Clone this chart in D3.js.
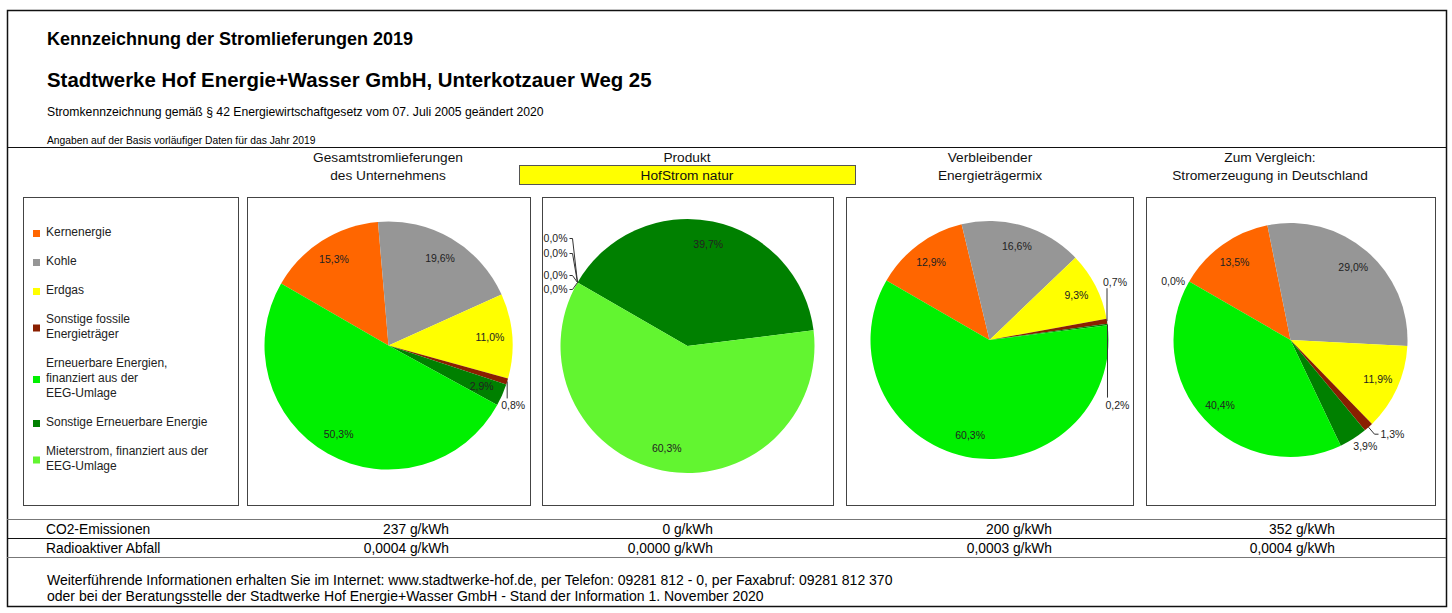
<!DOCTYPE html>
<html>
<head>
<meta charset="utf-8">
<script src="https://cdn.jsdelivr.net/npm/d3@7"></script>
<style>
  body { margin: 0; background: #fff; }
  svg { display: block; font-family: Arial, "Liberation Sans", sans-serif; }
</style>
</head>
<body>
<svg id="chart"></svg>
<script>
// categories in pie order (clockwise)
var categories = ["Kernenergie", "Kohle", "Erdgas", "Sonstige fossile Energieträger",
  "Sonstige Erneuerbare Energie", "Erneuerbare Energien, finanziert aus der EEG-Umlage",
  "Mieterstrom, finanziert aus der EEG-Umlage"]
var colors = ["#ff6600", "#969696", "#ffff00", "#8a1f00", "#008000", "#00f000", "#62f530"]

// legend order, wrapped lines per category
var legendOrder = [0, 1, 2, 3, 5, 4, 6]
var legendLines = [["Kernenergie"], ["Kohle"], ["Erdgas"], ["Sonstige fossile", "Energieträger"],
  ["Sonstige Erneuerbare Energie"], ["Erneuerbare Energien,", "finanziert aus der", "EEG-Umlage"],
  ["Mieterstrom, finanziert aus der", "EEG-Umlage"]]

// shares in percent, null = no label
var gesamt = [15.3, 19.6, 11.0, 0.8, 2.9, 50.3, null]
var produkt = [0.0, 0.0, 0.0, 0.0, 39.7, null, 60.3]
var verbleibend = [12.9, 16.6, 9.3, 0.7, 0.2, 60.3, null]
var deutschland = [13.5, 29.0, 11.9, 1.3, 3.9, 40.4, 0.0]

var headers = [["Gesamtstromlieferungen", "des Unternehmens"], ["Produkt", "HofStrom natur"],
  ["Verbleibender", "Energieträgermix"], ["Zum Vergleich:", "Stromerzeugung in Deutschland"]]
var co2 = [237, 0, 200, 352]
var abfall = [0.0004, 0.0000, 0.0003, 0.0004]

var W = 1452, H = 613
var svg = d3.select("#chart").attr("width", W).attr("height", H)

// panel layout
var panels = [
  { x0: 247, x1: 530, cy: 345.5, r: 124, hx: 388, vx: 449 },
  { x0: 542, x1: 833, cy: 346, r: 127, hx: 687, vx: 713 },
  { x0: 846, x1: 1133, cy: 340, r: 119, hx: 990, vx: 1052 },
  { x0: 1146, x1: 1435, cy: 340, r: 117, hx: 1270, vx: 1335 }
]
var boxTop = 197, boxBottom = 505

// outside labels: offsets relative to the slice edge point
var callouts = {
  "0-3": { line: [[0, 0], [0, 17]], text: [6, 24], anchor: "middle" },
  "1-0": { line: [[0, 0], [-5, -44], [-8, -44]], text: [-10, -44], anchor: "end" },
  "1-1": { line: [[0, 0], [-5, -29], [-8, -29]], text: [-10, -29], anchor: "end" },
  "1-2": { line: [[0, 0], [-5, -7], [-8, -7]], text: [-10, -7], anchor: "end" },
  "1-3": { line: [[0, 0], [-5, 7], [-8, 7]], text: [-10, 7], anchor: "end" },
  "2-3": { line: [[0, 0], [0, -33]], text: [8, -39], anchor: "middle" },
  "2-4": { line: [[0, 0], [0, 73]], text: [10, 81], anchor: "middle" },
  "3-3": { line: [[0, 0], [6, 7], [10, 7]], text: [12, 7], anchor: "start" },
  "3-4": { text: [12, 8], anchor: "middle" },
  "3-6": { text: [-16, 0], anchor: "middle" }
}

var de = d3.formatLocale({ decimal: ",", thousands: ".", grouping: [3], currency: ["", "€"] })
var pct = de.format(".1f")
var f4 = de.format(".4f")

// frame
svg.append("rect").attr("x", 7.5).attr("y", 10.5).attr("width", 1439).attr("height", 596)
  .attr("fill", "none").attr("stroke", "#111").attr("stroke-width", 1.5)

// titles
svg.append("text").attr("x", 47).attr("y", 45).style("font-size", "18px").style("font-weight", "bold")
  .text("Kennzeichnung der Stromlieferungen 2019")
svg.append("text").attr("x", 47).attr("y", 87).style("font-size", "20.4px").style("font-weight", "bold")
  .text("Stadtwerke Hof Energie+Wasser GmbH, Unterkotzauer Weg 25")
svg.append("text").attr("x", 47).attr("y", 116).style("font-size", "12.2px")
  .text("Stromkennzeichnung gemäß § 42 Energiewirtschaftgesetz vom 07. Juli 2005 geändert 2020")
svg.append("text").attr("x", 47).attr("y", 143.5).style("font-size", "10.3px")
  .text("Angaben auf der Basis vorläufiger Daten für das Jahr 2019")

svg.append("line").attr("x1", 7).attr("x2", 1446).attr("y1", 147.5).attr("y2", 147.5)
  .attr("stroke", "#111").attr("stroke-width", 1)

// headers
svg.append("rect").attr("x", 519.5).attr("y", 165.5).attr("width", 336).attr("height", 19)
  .attr("fill", "#ffff00").attr("stroke", "#555")
panels.forEach(function (p, i) {
  headers[i].forEach(function (t, j) {
    svg.append("text").attr("x", p.hx).attr("y", 162 + j * 18)
      .attr("text-anchor", "middle").style("font-size", "13.7px").attr("fill", "#111").text(t)
  })
})

// legend
var lg = svg.append("g")
lg.append("rect").attr("x", 23.5).attr("y", boxTop + 0.5).attr("width", 215).attr("height", boxBottom - boxTop)
  .attr("fill", "#fff").attr("stroke", "#444")
var lineH = 15, ly = 232
legendOrder.forEach(function (ci, k) {
  var lines = legendLines[ci]
  var h = lines.length * lineH + 14
  if (k > 0) ly += h / 2
  var top = ly - (lines.length - 1) * lineH / 2
  lg.append("rect").attr("x", 33).attr("y", ly - 2).attr("width", 7).attr("height", 7)
    .attr("fill", colors[ci])
  lines.forEach(function (t, j) {
    lg.append("text").attr("x", 46).attr("y", top + j * lineH + 4).style("font-size", "12px")
      .attr("fill", "#222").text(t)
  })
  ly += h / 2
})

// pies
var pie = d3.pie().sort(null).value(function (d) { return d.value || 0 })
  .startAngle(-Math.PI / 3).endAngle(-Math.PI / 3 + 2 * Math.PI)
var series = [gesamt, produkt, verbleibend, deutschland]

series.forEach(function (vals, i) {
  var p = panels[i]
  var cx = (p.x0 + p.x1) / 2
  svg.append("rect").attr("x", p.x0 + 0.5).attr("y", boxTop + 0.5).attr("width", p.x1 - p.x0)
    .attr("height", boxBottom - boxTop).attr("fill", "#fff").attr("stroke", "#444")

  var g = svg.append("g").attr("transform", "translate(" + cx + "," + p.cy + ")")
  var arcs = pie(vals.map(function (v, k) { return { value: v, k: k } }))
  var arc = d3.arc().innerRadius(0).outerRadius(p.r)

  g.selectAll("path").data(arcs).enter().append("path")
    .attr("d", arc).attr("fill", function (d) { return colors[d.data.k] })

  arcs.forEach(function (d) {
    if (d.data.value === null) return
    var mid = (d.startAngle + d.endAngle) / 2
    var c = callouts[i + "-" + d.data.k]
    var label = pct(d.data.value) + "%"
    if (c) {
      var ex = Math.sin(mid) * p.r, ey = -Math.cos(mid) * p.r
      if (c.line) {
        g.append("polyline")
          .attr("points", c.line.map(function (q) { return (ex + q[0]) + "," + (ey + q[1]) }).join(" "))
          .attr("fill", "none").attr("stroke", "#333").attr("stroke-width", 1)
      }
      g.append("text").attr("x", ex + c.text[0]).attr("y", ey + c.text[1]).attr("dy", "0.35em")
        .attr("text-anchor", c.anchor).style("font-size", "10.5px").attr("fill", "#222").text(label)
    } else {
      var lr = p.r * 0.82
      g.append("text").attr("x", Math.sin(mid) * lr).attr("y", -Math.cos(mid) * lr).attr("dy", "0.35em")
        .attr("text-anchor", "middle").style("font-size", "10.5px").attr("fill", "#222").text(label)
    }
  })
})

// emission rows
svg.append("line").attr("x1", 7).attr("x2", 1446).attr("y1", 519.5).attr("y2", 519.5).attr("stroke", "#777")
svg.append("line").attr("x1", 7).attr("x2", 1446).attr("y1", 538.5).attr("y2", 538.5).attr("stroke", "#111")
svg.append("line").attr("x1", 7).attr("x2", 1446).attr("y1", 557.5).attr("y2", 557.5).attr("stroke", "#777")

svg.append("text").attr("x", 46).attr("y", 534).style("font-size", "13.8px").text("CO2-Emissionen")
svg.append("text").attr("x", 46).attr("y", 553).style("font-size", "13.8px").text("Radioaktiver Abfall")
panels.forEach(function (p, i) {
  svg.append("text").attr("x", p.vx).attr("y", 534).attr("text-anchor", "end").style("font-size", "13.8px")
    .text(co2[i] + " g/kWh")
  svg.append("text").attr("x", p.vx).attr("y", 553).attr("text-anchor", "end").style("font-size", "13.8px")
    .text(f4(abfall[i]) + " g/kWh")
})

// footer
svg.append("text").attr("x", 47).attr("y", 585).style("font-size", "14px")
  .text("Weiterführende Informationen erhalten Sie im Internet: www.stadtwerke-hof.de, per Telefon: 09281 812 - 0, per Faxabruf: 09281 812 370")
svg.append("text").attr("x", 47).attr("y", 601).style("font-size", "14px")
  .text("oder bei der Beratungsstelle der Stadtwerke Hof Energie+Wasser GmbH - Stand der Information 1. November 2020")
</script>
</body>
</html>
